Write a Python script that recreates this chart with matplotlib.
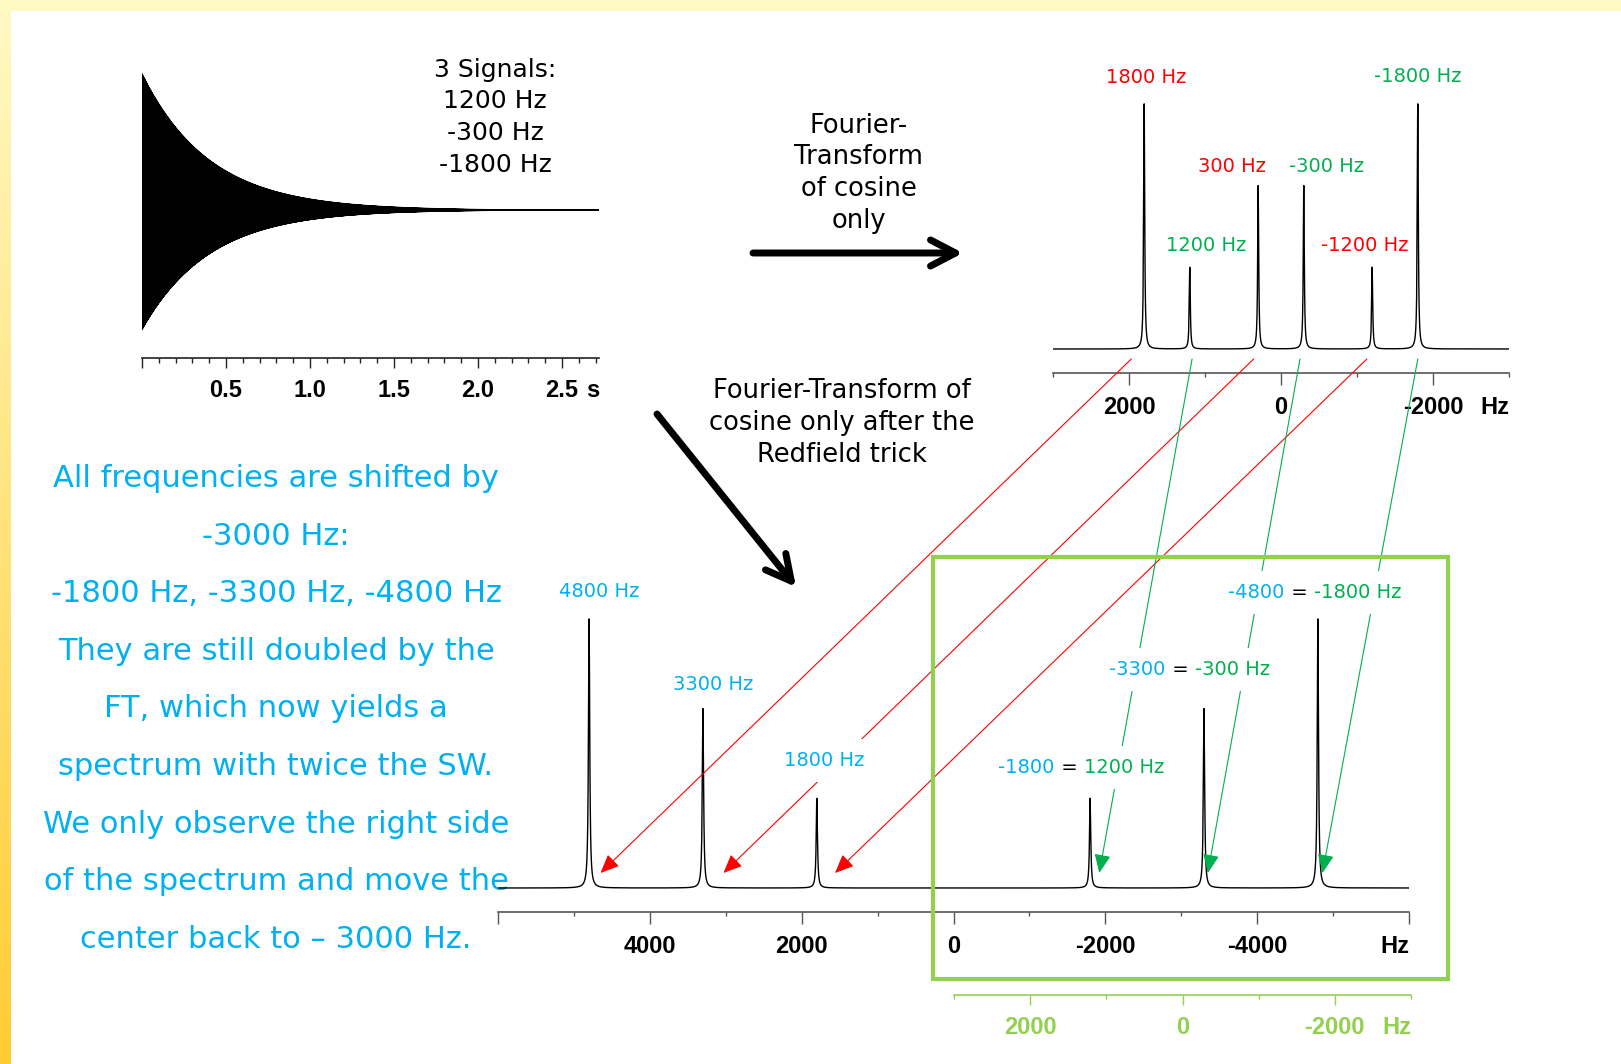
import numpy as np
import matplotlib.pyplot as plt
from matplotlib.patches import Rectangle, ConnectionPatch
from matplotlib.transforms import Bbox, IdentityTransform

# colours of the slide
RED = '#FF0000'
GREEN = '#00B050'
BLUE = '#00B0F0'
LIME = '#92D050'

# FID: three signals, amplitudes read from the peak heights
signal_freqs_hz = [1200, -300, -1800]
signal_amps = [1, 2, 3]
decay_rate = 2.5      # 1/s
t_max = 2.72          # s

# spectrum after FT of cosine only
top_peaks_hz = [1800, 1200, 300, -300, -1200, -1800]
top_heights = [3, 1, 2, 2, 1, 3]
top_labels = ['1800 Hz', '1200 Hz', '300 Hz', '-300 Hz', '-1200 Hz', '-1800 Hz']

# spectrum after the Redfield trick
bot_peaks_hz = [4800, 3300, 1800, -1800, -3300, -4800]
bot_heights = [3, 2, 1, 1, 2, 3]
bot_labels = ['4800 Hz', '3300 Hz', '1800 Hz']
bot_pair_labels = [('-1800', ' = ', '1200 Hz'),
                   ('-3300', ' = ', '-300 Hz'),
                   ('-4800', ' = ', '-1800 Hz')]

# connectors: where each arrow leaves the top spectrum and lands in the bottom one (Hz)
red_from_hz = [1970, 360, -1130]
red_to_hz = [4650, 3030, 1560]
green_from_hz = [1170, -250, -1800]
green_to_hz = [-1920, -3350, -4860]

fid_ticks = [0, 0.5, 1.0, 1.5, 2.0, 2.5]
top_ticks = [2000, 0, -2000]
bot_ticks = [6000, 4000, 2000, 0, -2000, -4000, -6000]

text_signals = ['3 Signals:', '1200 Hz', '-300 Hz', '-1800 Hz']
text_ft = ['Fourier-', 'Transform', 'of cosine', 'only']
text_redfield = ['Fourier-Transform of', 'cosine only after the', 'Redfield trick']
text_blue = ['All frequencies are shifted by', '-3000 Hz:',
             '-1800 Hz, -3300 Hz, -4800 Hz', 'They are still doubled by the',
             'FT, which now yields a', 'spectrum with twice the SW.',
             'We only observe the right side', 'of the spectrum and move the',
             'center back to \u2013 3000 Hz.']

plt.rcParams['font.family'] = ['DejaVu Sans']

W, H = 1621, 1064
fig = plt.figure(figsize=(W / 100, H / 100), dpi=100)


def px_rect(x0, y0, x1, y1):
    return [x0 / W, 1 - y1 / H, (x1 - x0) / W, (y1 - y0) / H]


# background / decoration layer in pixel coordinates
bg = fig.add_axes([0, 0, 1, 1], zorder=-1)
grad = np.linspace(0, 1, 200)[:, None, None]
c_top = np.array([1.0, 0.975, 0.76])
c_bot = np.array([1.0, 0.80, 0.20])
bg.imshow(c_top + (c_bot - c_top) * grad, extent=(0, 11, H, 11), aspect='auto')
bg.add_patch(Rectangle((0, 0), W, 11, color='#FFF9C4', lw=0))
bg.set_xlim(0, W)
bg.set_ylim(H, 0)
bg.axis('off')

for i, s in enumerate(text_signals):
    bg.text(495, 77 + 31.5 * i, s, fontsize=18, ha='center', va='baseline')
for i, s in enumerate(text_ft):
    bg.text(859, 133 + 31.5 * i, s, fontsize=18.5, ha='center', va='baseline')
for i, s in enumerate(text_redfield):
    bg.text(842, 398 + 32 * i, s, fontsize=18.5, ha='center', va='baseline')
for i, s in enumerate(text_blue):
    bg.text(276, 487 + 57.6 * i, s, fontsize=22, color=BLUE, ha='center', va='baseline')

arrow_kw = dict(arrowstyle='->,head_length=0.9,head_width=0.47', lw=5, color='black',
                mutation_scale=20, shrinkA=0, shrinkB=0)
bg.annotate('', xy=(963, 253), xytext=(753, 253), arrowprops=arrow_kw)
bg.annotate('', xy=(796, 587), xytext=(657, 414), arrowprops=arrow_kw)

tick_font = dict(family='Liberation Sans', weight='bold', size=17)


def style_axis(ax, color='#333333', maj=8.6, mnr=3.0):
    ax.set_facecolor('none')
    for side in ['top', 'left', 'right']:
        ax.spines[side].set_visible(False)
    ax.spines['bottom'].set_color(color)
    ax.spines['bottom'].set_linewidth(1.2)
    ax.set_yticks([])
    ax.tick_params(axis='x', which='major', length=maj, width=1, color=color, pad=8,
                   labelcolor=color if color == LIME else 'black')
    ax.tick_params(axis='x', which='minor', length=mnr, width=1, color=color)
    for lab in ax.get_xticklabels():
        lab.set_fontproperties(tick_font)


def end_label(ax, x, text, color='black', maj=8.6):
    ax.annotate(text, xy=(x, 0), xycoords=ax.get_xaxis_transform(),
                xytext=(0, -(maj + 8)), textcoords='offset points', ha='right', va='top',
                color=color, fontfamily='Liberation Sans', fontweight='bold', fontsize=17,
                annotation_clip=False)


# FID
ax_fid = fig.add_axes(px_rect(142, 60, 599, 358))
t = np.arange(0, t_max, 1 / 60000)
fid = sum(a * np.cos(2 * np.pi * f * t) for f, a in zip(signal_freqs_hz, signal_amps))
fid = fid * np.exp(-decay_rate * t)
ax_fid.plot(t, fid, color='black', lw=0.5)
ax_fid.set_xlim(0, t_max)
ax_fid.set_ylim(-6.48, 6.57)
ax_fid.set_xticks(fid_ticks, ['' if v == 0 else f'{v:.1f}' for v in fid_ticks])
ax_fid.set_xticks(np.arange(0.1, 2.75, 0.1), minor=True)
style_axis(ax_fid, color='#222222', maj=7.2, mnr=3.6)
end_label(ax_fid, t_max, 's', maj=7.2)

# top spectrum
ax_top = fig.add_axes(px_rect(1053, 60, 1509, 373))
hz = np.linspace(-3000, 3000, 12001)
spec_top = sum(h / (1 + ((hz - p) / 8.0) ** 2) for p, h in zip(top_peaks_hz, top_heights))
ax_top.plot(hz, spec_top, color='black', lw=1.0)
ax_top.set_xlim(3000, -3000)
ax_top.set_ylim(-24 / 81.7, 289 / 81.7)
ax_top.set_xticks(top_ticks, [str(v) for v in top_ticks])
ax_top.set_xticks([3000, 1000, -1000, -3000], minor=True)
style_axis(ax_top, color='#555555')
end_label(ax_top, -3000, 'Hz')

top_label_xy = [(1776, 3.32), (987, 1.27), (645, 2.23), (-605, 2.23), (-1105, 1.27), (-1803, 3.34)]
top_colors = [RED, GREEN, RED, GREEN, RED, GREEN]
for s, (x, y), c in zip(top_labels, top_label_xy, top_colors):
    ax_top.text(x, y, s, color=c, fontsize=14, ha='center', va='center')

# bottom spectrum
ax_bot = fig.add_axes(px_rect(498, 540, 1409, 912))
hz2 = np.linspace(-6000, 6000, 24001)
spec_bot = sum(h / (1 + ((hz2 - p) / 10.0) ** 2) for p, h in zip(bot_peaks_hz, bot_heights))
ax_bot.plot(hz2, spec_bot, color='black', lw=1.0)
ax_bot.set_xlim(6000, -6000)
ax_bot.set_ylim(-24 / 89.7, 348 / 89.7)
ax_bot.set_xticks(bot_ticks, ['' if abs(v) == 6000 else str(v) for v in bot_ticks])
ax_bot.set_xticks([5000, 3000, 1000, -1000, -3000, -5000], minor=True)
style_axis(ax_bot, color='#555555')
end_label(ax_bot, -6000, 'Hz')

box_kw = dict(boxstyle='square,pad=0.6', fc='white', ec='none')
bot_label_xy = [(4667, 3.31), (3163, 2.27), (1699, 1.42)]
for s, (x, y) in zip(bot_labels, bot_label_xy):
    ax_bot.text(x, y, s, color=BLUE, fontsize=14, ha='center', va='center',
                bbox=box_kw, zorder=5)

# three-coloured labels; a white patch behind them breaks the arrows passing through
pair_xy = [(-588, 1.34), (-2052, 2.44), (-3621, 3.29)]
renderer = fig.canvas.get_renderer()
for parts, (x, y) in zip(bot_pair_labels, pair_xy):
    pieces = [ax_bot.text(x, y, parts[0], color=BLUE, fontsize=14, ha='left', va='center',
                          zorder=5)]
    for part, c in zip(parts[1:], ['black', GREEN]):
        pieces.append(ax_bot.annotate(part, xy=(1, 0.5), xycoords=pieces[-1], ha='left',
                                      va='center', color=c, fontsize=14, zorder=5,
                                      annotation_clip=False))
    ext = Bbox.union([p.get_window_extent(renderer) for p in pieces]).padded(12)
    ax_bot.add_patch(Rectangle((ext.x0, ext.y0), ext.width, ext.height, fc='white',
                               ec='none', transform=IdentityTransform(), zorder=4,
                               clip_on=False))

# connecting arrows
for src, dst, c in [(red_from_hz, red_to_hz, RED), (green_from_hz, green_to_hz, GREEN)]:
    for a, b in zip(src, dst):
        con = ConnectionPatch(xyA=(a, -10 / 81.7), coordsA=ax_top.transData,
                              xyB=(b, 15 / 89.7), coordsB=ax_bot.transData,
                              arrowstyle='-|>,head_length=1.15,head_width=0.5',
                              mutation_scale=10, color=c, lw=0.8, zorder=2)
        con.set_clip_on(False)
        ax_bot.add_artist(con)

# green box marking the observed half
ax_bot.add_patch(Rectangle((-6520, -1.02), 6795, 4.71, fill=False, ec=LIME, lw=3,
                           clip_on=False, zorder=6))

# green re-referenced axis
ax_grn = fig.add_axes(px_rect(954, 975, 1411, 995))
ax_grn.set_xlim(3000, -3000)
ax_grn.set_ylim(0, 1)
ax_grn.set_xticks(top_ticks, [str(v) for v in top_ticks])
ax_grn.set_xticks([3000, 1000, -1000, -3000], minor=True)
style_axis(ax_grn, color=LIME, maj=7.2, mnr=3.0)
end_label(ax_grn, -3000, 'Hz', color=LIME, maj=7.2)

fig.savefig('out.png', dpi=100)
